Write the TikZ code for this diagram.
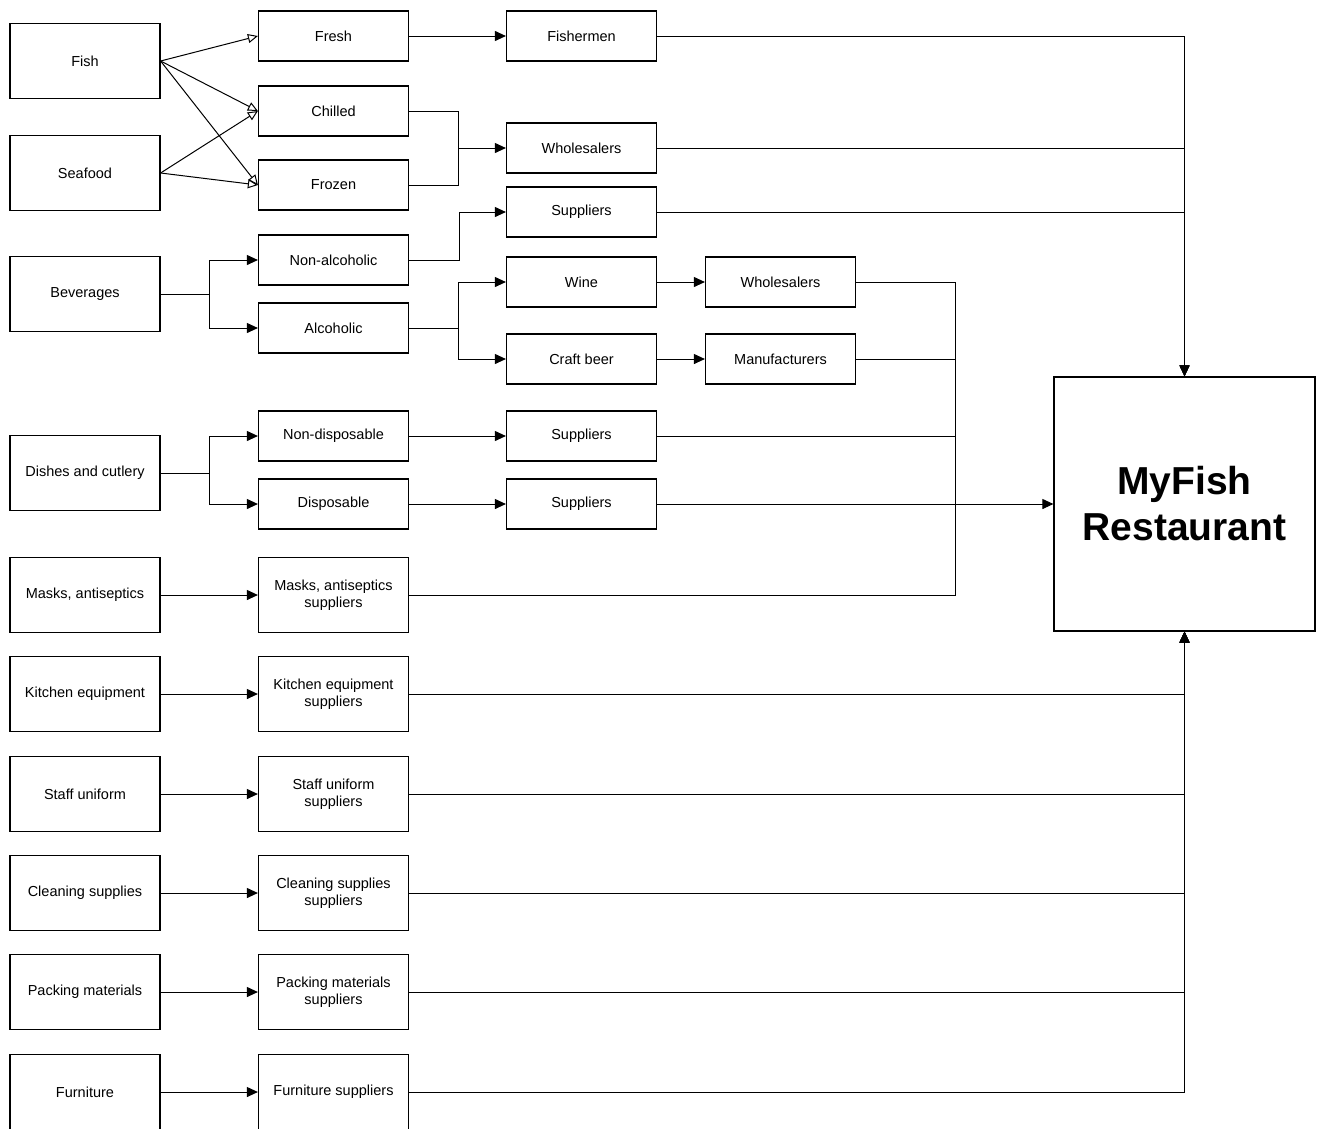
\documentclass[tikz,border=0pt]{standalone}
\usepackage{fontspec}
\setmainfont{Liberation Sans}
\usetikzlibrary{arrows.meta}
\begin{document}
\begin{tikzpicture}[x=1pt,y=-1pt,
  box/.style={draw, line width=1.2pt, rectangle, minimum width=150pt, minimum height=50pt,
    inner sep=0pt, align=center, font=\fontsize{14.5}{17}\selectfont},
  tall/.style={box, minimum height=75pt},
  link/.style={line width=1pt},
  arr/.style={link, -{Triangle[length=11pt,width=10pt]}},
  open/.style={link, -{Triangle[open,length=10pt,width=9pt,fill=white]}}]
\useasboundingbox (0,0) rectangle (1324,1128);
\clip (0,0) rectangle (1324,1128);

% first column: product groups
\node[tall] (fish)    at (85,61)   {Fish};
\node[tall] (seafood) at (85,173)  {Seafood};
\node[tall] (bev)     at (85,294)  {Beverages};
\node[tall] (dish)    at (85,473)  {Dishes and cutlery};
\node[tall] (masks)   at (85,595)  {Masks, antiseptics};
\node[tall] (kitchen) at (85,694)  {Kitchen equipment};
\node[tall] (uniform) at (85,794)  {Staff uniform};
\node[tall] (clean)   at (85,893)  {Cleaning supplies};
\node[tall] (pack)    at (85,992)  {Packing materials};
\node[tall] (furn)    at (85,1092) {Furniture};

% second column: categories and suppliers
\node[box]  (fresh)    at (333.5,36)   {Fresh};
\node[box]  (chilled)  at (333.5,111)  {Chilled};
\node[box]  (frozen)   at (333.5,185)  {Frozen};
\node[box]  (nonalc)   at (333.5,260)  {Non-alcoholic};
\node[box]  (alc)      at (333.5,328)  {Alcoholic};
\node[box]  (nondisp)  at (333.5,436)  {Non-disposable};
\node[box]  (disp)     at (333.5,504)  {Disposable};
\node[tall] (maskss)   at (333.5,595)  {Masks, antiseptics\\suppliers};
\node[tall] (kitchens) at (333.5,694)  {Kitchen equipment\\suppliers};
\node[tall] (uniforms) at (333.5,794)  {Staff uniform\\suppliers};
\node[tall] (cleans)   at (333.5,893)  {Cleaning supplies\\suppliers};
\node[tall] (packs)    at (333.5,992)  {Packing materials\\suppliers};
\node[tall] (furns)    at (333.5,1092) {Furniture suppliers};

% third column
\node[box] (fishermen) at (581.5,36)  {Fishermen};
\node[box] (whole)     at (581.5,148) {Wholesalers};
\node[box] (supp1)     at (581.5,212) {Suppliers};
\node[box] (wine)      at (581.5,282) {Wine};
\node[box] (beer)      at (581.5,359) {Craft beer};
\node[box] (supp2)     at (581.5,436) {Suppliers};
\node[box] (supp3)     at (581.5,504) {Suppliers};

% fourth column
\node[box] (whole2) at (780.5,282) {Wholesalers};
\node[box] (manuf)  at (780.5,359) {Manufacturers};

% restaurant
\node[draw, line width=1.2pt, minimum width=261pt, minimum height=254pt, inner sep=0pt,
  align=center, font=\fontsize{39}{46}\selectfont\bfseries] (my) at (1184.5,504)
  {MyFish\\Restaurant};

% fish and seafood
\draw[open] (fish.east) -- (fresh.west);
\draw[open] (fish.east) -- (chilled.west);
\draw[open] (fish.east) -- (frozen.west);
\draw[open] (seafood.east) -- (chilled.west);
\draw[open] (seafood.east) -- (frozen.west);
\draw[arr] (fresh) -- (fishermen);
\coordinate (m1) at (458,148);
\draw[link] (chilled.east) -| (m1);
\draw[link] (frozen.east) -| (m1);
\draw[arr] (m1) -- (whole.west);

% beverages
\coordinate (m3) at (209,294);
\draw[link] (bev.east) -- (m3);
\draw[arr] (m3) |- (nonalc.west);
\draw[arr] (m3) |- (alc.west);
\draw[arr] (nonalc.east) -- ++(50,0) |- (supp1.west);
\coordinate (m2) at (458,328);
\draw[link] (alc.east) -- (m2);
\draw[arr] (m2) |- (wine.west);
\draw[arr] (m2) |- (beer.west);
\draw[arr] (wine) -- (whole2);
\draw[arr] (beer) -- (manuf);

% dishes
\coordinate (m4) at (209,473);
\draw[link] (dish.east) -- (m4);
\draw[arr] (m4) |- (nondisp.west);
\draw[arr] (m4) |- (disp.west);
\draw[arr] (nondisp) -- (supp2);
\draw[arr] (disp) -- (supp3);

% direct supplier links
\draw[arr] (masks) -- (maskss);
\draw[arr] (kitchen) -- (kitchens);
\draw[arr] (uniform) -- (uniforms);
\draw[arr] (clean) -- (cleans);
\draw[arr] (pack) -- (packs);
\draw[arr] (furn) -- (furns);

% middle bus into the restaurant
\coordinate (b1) at (955,504);
\draw[link] (whole2.east) -| (b1);
\draw[link] (manuf.east) -| (b1);
\draw[link] (supp2.east) -| (b1);
\draw[link] (maskss.east) -| (b1);
\draw[arr] (supp3.east) -- (my.west);

% top bus
\draw[arr] (fishermen.east) -| (my.north);
\draw[arr] (whole.east) -| (my.north);
\draw[arr] (supp1.east) -| (my.north);

% bottom bus
\draw[arr] (kitchens.east) -| (my.south);
\draw[arr] (uniforms.east) -| (my.south);
\draw[arr] (cleans.east) -| (my.south);
\draw[arr] (packs.east) -| (my.south);
\draw[arr] (furns.east) -| (my.south);
\end{tikzpicture}
\end{document}
